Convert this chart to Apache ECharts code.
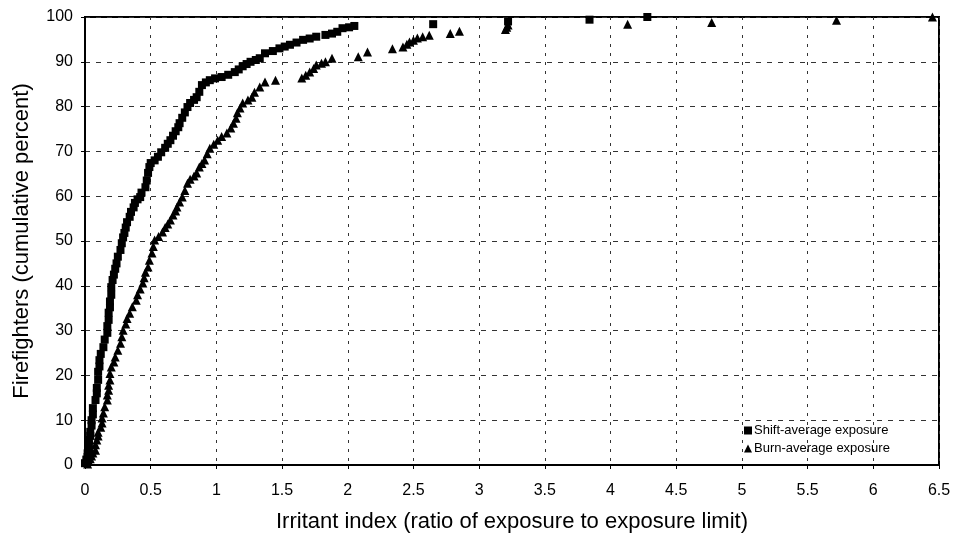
<!DOCTYPE html>
<html>
<head>
<meta charset="utf-8">
<script src="https://cdn.jsdelivr.net/npm/echarts@6/dist/echarts.min.js"></script>
<style>
  html, body { margin: 0; padding: 0; background: #fff; }
  #chart { width: 961px; height: 533px; }
</style>
</head>
<body>
<div id="chart"></div>
<script>
// Cumulative distribution of irritant index per firefighter: [index, cumulative %]
const shiftAverage = [
  [0.00,0.4],[0.01,1.2],[0.02,1.8],[0.02,2.6],[0.03,3.3],[0.03,4.5],[0.03,5.6],[0.04,6.5],
  [0.04,7.4],[0.05,8.8],[0.05,10.0],[0.06,11.3],[0.06,12.7],[0.08,14.5],[0.09,16.0],[0.09,17.2],
  [0.10,19.0],[0.10,20.8],[0.11,22.0],[0.11,23.4],[0.12,24.8],[0.14,26.3],[0.15,28.0],[0.17,29.5],
  [0.17,31.0],[0.18,32.4],[0.18,34.0],[0.19,35.2],[0.19,36.5],[0.20,38.0],[0.20,39.7],[0.21,41.3],
  [0.22,42.5],[0.23,43.8],[0.24,45.0],[0.25,46.5],[0.27,48.0],[0.28,49.5],[0.29,50.8],[0.30,51.8],
  [0.31,53.0],[0.32,54.2],[0.34,55.4],[0.35,56.5],[0.37,57.5],[0.38,58.5],[0.40,59.3],[0.42,59.8],
  [0.43,60.8],[0.46,62.0],[0.47,63.5],[0.48,65.2],[0.49,66.5],[0.50,67.4],[0.53,68.0],[0.555,68.8],
  [0.58,69.8],[0.61,70.8],[0.63,71.7],[0.65,72.5],[0.67,73.5],[0.69,74.5],[0.71,75.4],[0.72,76.3],
  [0.74,77.5],[0.76,78.7],[0.78,79.9],[0.80,80.8],[0.83,81.5],[0.85,82.1],[0.87,83.3],[0.89,84.8],
  [0.92,85.4],[0.95,85.9],[0.99,86.3],[1.04,86.6],[1.09,87.1],[1.14,87.7],[1.17,88.3],[1.20,89.0],
  [1.23,89.5],[1.26,90.0],[1.30,90.4],[1.33,90.8],[1.37,91.9],[1.43,92.4],[1.48,93.0],[1.52,93.4],
  [1.56,93.8],[1.61,94.3],[1.66,94.9],[1.71,95.2],[1.76,95.6],[1.83,96.0],[1.88,96.3],[1.92,96.7],
  [1.96,97.5],[2.01,97.7],[2.05,98.0],[2.65,98.4],[3.22,99.0],[3.84,99.4],[4.28,100]
];

const burnAverage = [
  [0.02,0.2],[0.03,0.8],[0.04,1.4],[0.05,2.0],[0.06,2.7],[0.08,3.3],[0.08,4.5],[0.09,5.6],
  [0.10,6.5],[0.10,7.3],[0.12,8.4],[0.13,9.4],[0.13,10.5],[0.14,11.6],[0.15,13.0],[0.17,14.5],
  [0.17,15.6],[0.18,16.7],[0.18,17.8],[0.19,19.0],[0.19,20.4],[0.20,21.9],[0.22,23.0],[0.23,24.1],
  [0.25,25.6],[0.27,27.2],[0.28,28.6],[0.29,30.1],[0.31,31.5],[0.32,32.7],[0.34,33.9],[0.36,35.3],
  [0.39,36.8],[0.40,38.0],[0.42,39.3],[0.44,40.6],[0.45,41.8],[0.46,43.0],[0.48,44.2],[0.49,45.7],
  [0.51,47.3],[0.52,48.8],[0.53,50.2],[0.56,51.0],[0.59,52.0],[0.61,53.0],[0.63,53.8],[0.65,54.7],
  [0.67,55.8],[0.69,56.7],[0.70,57.6],[0.72,58.7],[0.74,59.8],[0.76,61.3],[0.78,62.9],[0.80,63.8],
  [0.83,64.5],[0.85,65.2],[0.87,66.5],[0.89,67.3],[0.91,68.1],[0.93,69.5],[0.95,70.7],[0.98,71.6],
  [1.01,72.5],[1.04,73.3],[1.08,74.1],[1.11,75.2],[1.13,76.3],[1.15,77.4],[1.16,78.6],[1.18,79.7],
  [1.20,80.8],[1.24,81.5],[1.27,82.1],[1.29,83.2],[1.33,84.4],[1.37,85.5],[1.45,85.9],[1.65,86.4],
  [1.68,87.0],[1.71,87.7],[1.74,88.5],[1.76,89.3],[1.80,89.7],[1.83,90.0],[1.88,90.8],[2.08,91.1],
  [2.15,92.2],[2.34,92.9],[2.42,93.3],[2.45,93.9],[2.47,94.4],[2.50,94.8],[2.53,95.3],[2.57,95.6],
  [2.62,95.9],[2.78,96.3],[2.85,96.8],[3.20,97.2],[3.21,97.7],[3.22,98.2],[4.13,98.4],[4.77,98.8],
  [5.72,99.3],[6.45,100]
];

const seriesNames = ['Shift-average exposure', 'Burn-average exposure'];
const xTitle = 'Irritant index (ratio of exposure to exposure limit)';
const yTitle = 'Firefighters (cumulative percent)';

const FONT = '"Liberation Sans", Arial, Helvetica, sans-serif';

const chart = echarts.init(document.getElementById('chart'), null, { renderer: 'canvas' });

chart.setOption({
  animation: false,
  backgroundColor: '#ffffff',
  textStyle: { fontFamily: FONT, color: '#000' },
  grid: {
    left: 85, right: 22, top: 17, bottom: 68,
    outerBoundsMode: 'none',
    show: true, borderColor: '#000', borderWidth: 2, backgroundColor: 'transparent'
  },
  legend: {
    orient: 'vertical',
    left: 739, top: 419,
    itemWidth: 8, itemHeight: 8, itemGap: 5,
    textStyle: { fontFamily: FONT, fontSize: 13, color: '#000', padding: [0, 0, 0, -3] },
    data: [
      { name: seriesNames[0], icon: 'rect' },
      { name: seriesNames[1], icon: 'triangle' }
    ]
  },
  xAxis: {
    type: 'value', min: 0, max: 6.5, interval: 0.5,
    name: xTitle, nameLocation: 'middle', nameGap: 46,
    nameTextStyle: { fontFamily: FONT, fontSize: 22, color: '#000' },
    axisLine: { show: true, lineStyle: { color: '#000', width: 2 } },
    axisTick: { show: true, length: 4, lineStyle: { color: '#000' } },
    axisLabel: { fontFamily: FONT, fontSize: 16, color: '#000', margin: 18 },
    splitLine: { show: true, lineStyle: { color: '#333', width: 1, type: [3, 6] } }
  },
  yAxis: {
    type: 'value', min: 0, max: 100, interval: 10,
    name: yTitle, nameLocation: 'middle', nameGap: 52, nameRotate: 90,
    nameTextStyle: { fontFamily: FONT, fontSize: 22, color: '#000' },
    axisLine: { show: true, lineStyle: { color: '#000', width: 2 } },
    axisTick: { show: true, length: 4, lineStyle: { color: '#000' } },
    axisLabel: { fontFamily: FONT, fontSize: 16, color: '#000', margin: 12 },
    splitLine: { show: true, lineStyle: { color: '#333', width: 1, type: [5, 6] } }
  },
  series: [
    {
      name: seriesNames[0], type: 'scatter', data: shiftAverage,
      symbol: 'rect', symbolSize: 8,
      itemStyle: { color: '#000', opacity: 1 }
    },
    {
      name: seriesNames[1], type: 'scatter', data: burnAverage,
      symbol: 'triangle', symbolSize: 9,
      itemStyle: { color: '#000', opacity: 1 }
    }
  ]
});
</script>
</body>
</html>
